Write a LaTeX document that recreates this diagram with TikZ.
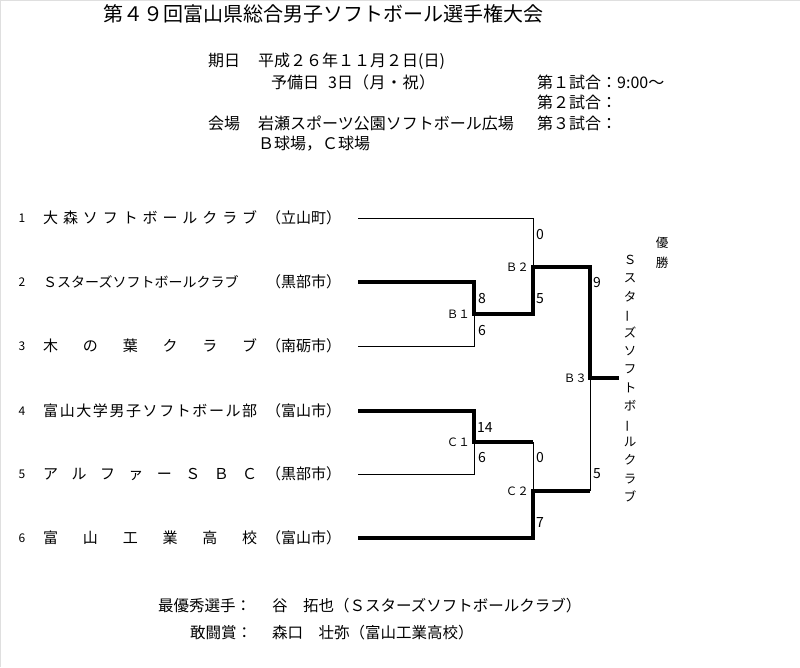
\documentclass[tikz,border=0pt]{standalone}
\usepackage{fontspec}
\setmainfont{Noto Sans CJK JP}
\usepackage{graphicx}
\tikzset{
  txt/.style={inner sep=0pt, anchor=west},
  hdr/.style={txt, font=\fontsize{16}{16}\selectfont},
  team/.style={txt, font=\fontsize{15}{15}\selectfont},
  teamsm/.style={txt, font=\fontsize{14}{14}\selectfont},
  num/.style={inner sep=0pt, font=\fontsize{12}{12}\selectfont},
  foot/.style={txt, font=\fontsize{15.5}{15.5}\selectfont},
  score/.style={inner sep=0pt, anchor=west, font=\fontsize{14}{14}\selectfont},
  glabel/.style={inner sep=0pt, anchor=east, font=\fontsize{11.5}{12}\selectfont},
  thinln/.style={line width=0.9pt},
  thickln/.style={line width=3.2pt, line join=miter},
}
\newcommand{\jbox}[1]{\makebox[214pt][l]{#1}}
\newcommand{\vbar}{\rotatebox[origin=c]{90}{ー}}
\begin{document}
\begin{tikzpicture}[x=1pt,y=-1pt]
\useasboundingbox (0,0) rectangle (800,667);
\draw[gray!25, line width=1pt] (0.5,667) -- (0.5,0.5) -- (800,0.5);

% title and header
\node[txt, font=\fontsize{20}{20}\selectfont] (title) at (103,14) {第４９回富山県総合男子ソフトボール選手権大会};
\node[hdr] (kijitsu) at (208,61) {期日};
\node[hdr] (date) at (258,61) {平成２６年１１月２日(日)};
\node[hdr] (yobi) at (271,82) {\makebox[57pt][l]{予備日}3日\makebox[82pt][s]{（\hfill 月\hfill ・\hfill 祝\hfill ）}};
\node[hdr] (g1) at (537,82) {第１試合：9:00～};
\node[hdr] (g2) at (537,102) {第２試合：};
\node[hdr] (kaijo) at (208,123) {会場};
\node[hdr] (venue) at (258,123) {岩瀬スポーツ公園ソフトボール広場};
\node[hdr] (g3) at (537,123) {第３試合：};
\node[hdr] (fields) at (258,144) {Ｂ球場，Ｃ球場};

% teams
\node[num] (n1) at (22,218) {1};
\node[num] (n2) at (22,282) {2};
\node[num] (n3) at (22,346) {3};
\node[num] (n4) at (22,411) {4};
\node[num] (n5) at (22,474) {5};
\node[num] (n6) at (22,538) {6};

\node[team] (name1) at (43,218) {\jbox{大\hfill 森\hfill ソ\hfill フ\hfill ト\hfill ボ\hfill ー\hfill ル\hfill ク\hfill ラ\hfill ブ}};
\node[teamsm] (name2) at (43,282) {Ｓスターズソフトボールクラブ};
\node[team] (name3) at (43,346) {\jbox{木\hfill の\hfill 葉\hfill ク\hfill ラ\hfill ブ}};
\node[team] (name4) at (43,411) {\jbox{富\hfill 山\hfill 大\hfill 学\hfill 男\hfill 子\hfill ソ\hfill フ\hfill ト\hfill ボ\hfill ー\hfill ル\hfill 部}};
\node[team] (name5) at (43,474) {\jbox{ア\hfill ル\hfill フ\hfill ァ\hfill ー\hfill Ｓ\hfill Ｂ\hfill Ｃ}};
\node[team] (name6) at (43,538) {\jbox{富\hfill 山\hfill 工\hfill 業\hfill 高\hfill 校}};

\node[team] (city1) at (266,218) {（立山町）};
\node[team] (city2) at (266,282) {（黒部市）};
\node[team] (city3) at (266,346) {（南砺市）};
\node[team] (city4) at (266,411) {（富山市）};
\node[team] (city5) at (266,474) {（黒部市）};
\node[team] (city6) at (266,538) {（富山市）};

% bracket points
\coordinate (t1) at (358,218);
\coordinate (t2) at (358,282);
\coordinate (t3) at (358,346);
\coordinate (t4) at (358,411);
\coordinate (t5) at (358,474);
\coordinate (t6) at (358,538);
\coordinate (b1) at (474,314);
\coordinate (b2) at (533,267);
\coordinate (b3) at (590,378);
\coordinate (c1) at (474,442);
\coordinate (c2) at (533,491);
\coordinate (win) at (619,378);

% thin lines (losers)
\draw[thinln] (t1) -| (b2);
\draw[thinln] (t3) -| (b1);
\draw[thinln] (t5) -| (c1);
\draw[thinln] (c1 -| c2) -- (c2);
\draw[thinln] (c2 -| b3) -- (b3);
% thick lines (winners)
\draw[thickln] (t2) -| (b1) -| (b2) -| (b3) -- (win);
\draw[thickln] (t4) -| (c1) -- (c1 -| c2);
\draw[thickln] (t6) -| (c2) -- (c2 -| b3);

% game labels
\node[glabel] (lb1) at (470,314) {Ｂ１};
\node[glabel] (lb2) at (529,267) {Ｂ２};
\node[glabel] (lb3) at (587,378) {Ｂ３};
\node[glabel] (lc1) at (470,442) {Ｃ１};
\node[glabel] (lc2) at (529,491) {Ｃ２};

% scores
\node[score] (s1) at (536,235) {0};
\node[score] (s2) at (478,299) {8};
\node[score] (s3) at (536,299) {5};
\node[score] (s4) at (478,331) {6};
\node[score] (s5) at (593,283) {9};
\node[score] (s6) at (477,428) {14};
\node[score] (s7) at (478,458) {6};
\node[score] (s8) at (536,458) {0};
\node[score] (s9) at (593,474) {5};
\node[score] (s10) at (536,522) {7};

% champion
\node[inner sep=0pt, align=center, font=\fontsize{12.5}{18.2}\selectfont] (champ) at (630,378.5)
  {Ｓ\\ス\\タ\\\vbar\\ズ\\ソ\\フ\\ト\\ボ\\\vbar\\ル\\ク\\ラ\\ブ};
\node[inner sep=0pt, align=center, font=\fontsize{12.5}{20}\selectfont] (yusho) at (662,253) {優\\勝};

% awards
\node[foot] (mvp) at (158,606) {最優秀選手：};
\node[foot] (mvpname) at (272,606) {谷　拓也（Ｓスターズソフトボールクラブ）};
\node[foot] (kanto) at (190,633) {敢闘賞：};
\node[foot] (kantoname) at (272,633) {森口　壮弥（富山工業高校）};
\end{tikzpicture}
\end{document}
